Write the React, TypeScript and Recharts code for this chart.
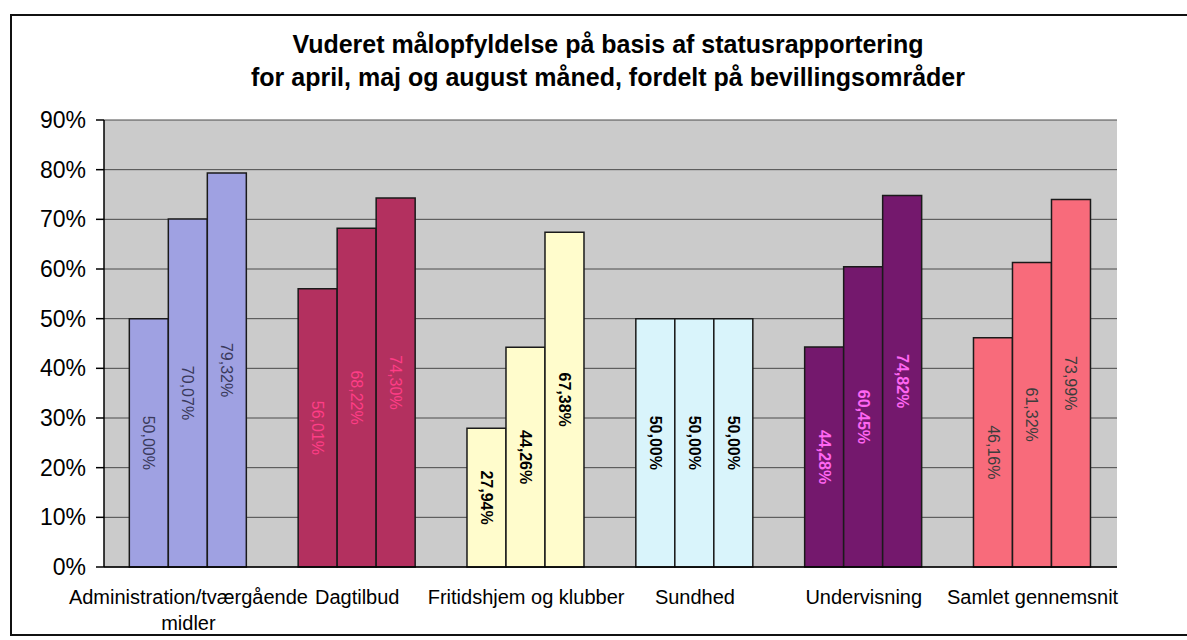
import React from 'react';
import { BarChart, Bar, XAxis, YAxis, CartesianGrid, Cell, LabelList } from 'recharts';

const categories = [
  'Administration/tværgående midler',
  'Dagtilbud',
  'Fritidshjem og klubber',
  'Sundhed',
  'Undervisning',
  'Samlet gennemsnit',
];
const april = [50.0, 56.01, 27.94, 50.0, 44.28, 46.16];
const maj = [70.07, 68.22, 44.26, 50.0, 60.45, 61.32];
const august = [79.32, 74.3, 67.38, 50.0, 74.82, 73.99];
const yTicks = [0, 10, 20, 30, 40, 50, 60, 70, 80, 90];
const boundaryTicks = [0, 1, 2, 3, 4, 5, 6];

const barColors = ['#9fa1e2', '#b3305f', '#fffccc', '#d9f4fb', '#74186d', '#f86b7b'];
const labelColors = ['#3a3a5c', '#ff3d86', '#000000', '#000000', '#ff66f2', '#3d3d3d'];
const labelWeights = ['normal', 'normal', 'bold', 'bold', 'bold', 'normal'];

const data = categories.map((c, i) => ({
  idx: i,
  name: c,
  april: april[i],
  maj: maj[i],
  august: august[i],
}));

const FONT = '"Liberation Sans", Arial, sans-serif';

const fmt = (v: number) => v.toFixed(2).replace('.', ',') + '%';

const RotLabel = (props: any) => {
  const { x, y, width, height, value, index } = props;
  const cx = Number(x) + Number(width) / 2;
  const cy = Number(y) + Number(height) / 2;
  return (
    <text
      x={cx}
      y={cy}
      transform={`rotate(90, ${cx}, ${cy})`}
      textAnchor="middle"
      dominantBaseline="central"
      fontFamily={FONT}
      fontSize={16}
      fontWeight={labelWeights[index] as any}
      fill={labelColors[index]}
    >
      {fmt(Number(value))}
    </text>
  );
};

const XTick = (props: any) => {
  const { x, y, payload } = props;
  const label: string = payload.value;
  const lines = label === 'Administration/tværgående midler' ? ['Administration/tværgående', 'midler'] : [label];
  return (
    <g>
      {lines.map((l, i) => (
        <text
          key={i}
          x={x}
          y={Number(y) + 28 + i * 26}
          textAnchor="middle"
          fontFamily={FONT}
          fontSize={20}
          fill="#000"
        >
          {l}
        </text>
      ))}
    </g>
  );
};

const series = [
  { key: 'april' },
  { key: 'maj' },
  { key: 'august' },
];

export default function App() {
  return (
    <div style={{ position: 'absolute', left: 0, top: 0, width: 1187, height: 640, background: '#fff' }}>
      <div
        style={{
          position: 'absolute',
          left: 10,
          top: 14,
          width: 1200,
          height: 622,
          borderLeft: '2px solid #111',
          borderTop: '2px solid #111',
          borderBottom: '2px solid #111',
          boxSizing: 'border-box',
        }}
      />
      <div
        style={{
          position: 'absolute',
          left: 0,
          top: 28,
          width: 1216,
          textAlign: 'center',
          fontFamily: FONT,
          fontWeight: 'bold',
          fontSize: 25,
          lineHeight: '33px',
          color: '#000',
        }}
      >
        Vuderet målopfyldelse på basis af statusrapportering
        <br />
        for april, maj og august måned, fordelt på bevillingsområder
      </div>
      <div style={{ position: 'absolute', left: 0, top: 0 }}>
        <BarChart
          width={1187}
          height={640}
          data={data}
          margin={{ top: 120, right: 70, bottom: 0, left: 14 }}
          barCategoryGap="15%"
          barGap={0}
        >
          <CartesianGrid
            vertical={false}
            stroke="#4a4a4a"
            strokeWidth={1}
            fill="#cbcbcb"
            fillOpacity={1}
            xAxisId="bnd"
          />
          <XAxis
            xAxisId="bnd"
            type="number"
            dataKey="idx"
            domain={[0, 6]}
            ticks={boundaryTicks}
            tick={false}
            tickLine={{ stroke: '#000', strokeWidth: 1.5 }}
            tickSize={6}
            axisLine={{ stroke: '#000', strokeWidth: 1.5 }}
            height={1}
            allowDataOverflow
          />
          <XAxis
            xAxisId="cat"
            dataKey="name"
            tickLine={false}
            axisLine={false}
            tick={<XTick />}
            interval={0}
            height={72}
          />
          <YAxis
            width={90}
            domain={[0, 90]}
            ticks={yTicks}
            interval={0}
            tickFormatter={(v: number) => `${v}%`}
            tick={{ fontFamily: FONT, fontSize: 23, fill: '#000' }}
            tickLine={{ stroke: '#000', strokeWidth: 1.5 }}
            tickSize={8}
            tickMargin={10}
            axisLine={{ stroke: '#000', strokeWidth: 1.5 }}
          />
          {series.map((s) => (
            <Bar
              key={s.key}
              dataKey={s.key}
              xAxisId="cat"
              isAnimationActive={false}
              stroke="#1a1a1a"
              strokeWidth={1.5}
            >
              {data.map((d, i) => (
                <Cell key={i} fill={barColors[i]} />
              ))}
              <LabelList dataKey={s.key} content={<RotLabel />} />
            </Bar>
          ))}
        </BarChart>
      </div>
    </div>
  );
}
